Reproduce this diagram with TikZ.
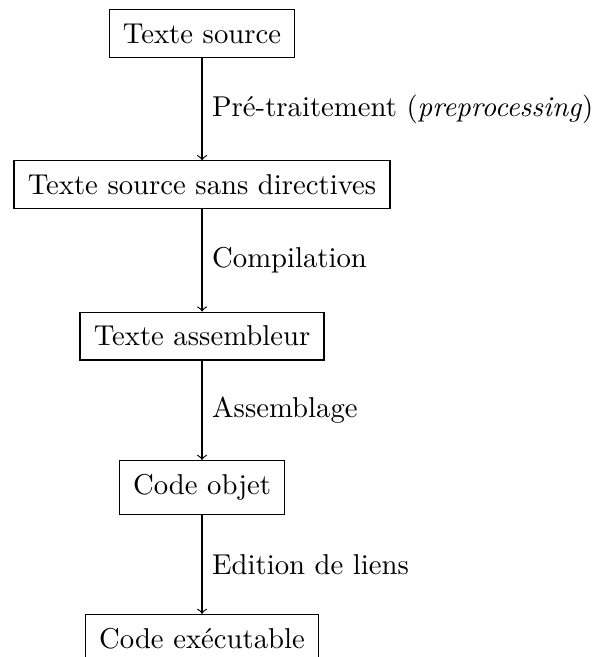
\documentclass[tikz,border=0pt]{standalone}
\usepackage{fontspec}
\usepackage{tikz}
\usetikzlibrary{arrows}
\tikzset{etape/.style={draw,inner sep=4.8pt}}

\begin{document}
\begin{tikzpicture}
          \useasboundingbox (-2.473,0.410) rectangle (4.871,-7.632);
          \def\dy{1.852}
          \node[etape] (src) at (0,0) {Texte source};
          \node[etape] (sansdir) at (0,-\dy) {Texte source sans directives};
          \node[etape] (asm) at (0,-2*\dy) {Texte assembleur};
          \node[etape] (obj) at (0,-3*\dy) {Code objet};
          \node[etape] (exe) at (0,-4*\dy) {Code exécutable};

          \draw[->] (src) -- node[right] {Pré-traitement (\emph{preprocessing})} (sansdir);
          \draw[->] (sansdir) -- node[right] {Compilation} (asm);
          \draw[->] (asm) -- node[right] {Assemblage} (obj);
          \draw[->] (obj) -- node[right] {Edition de liens} (exe);
        \end{tikzpicture}
\end{document}
